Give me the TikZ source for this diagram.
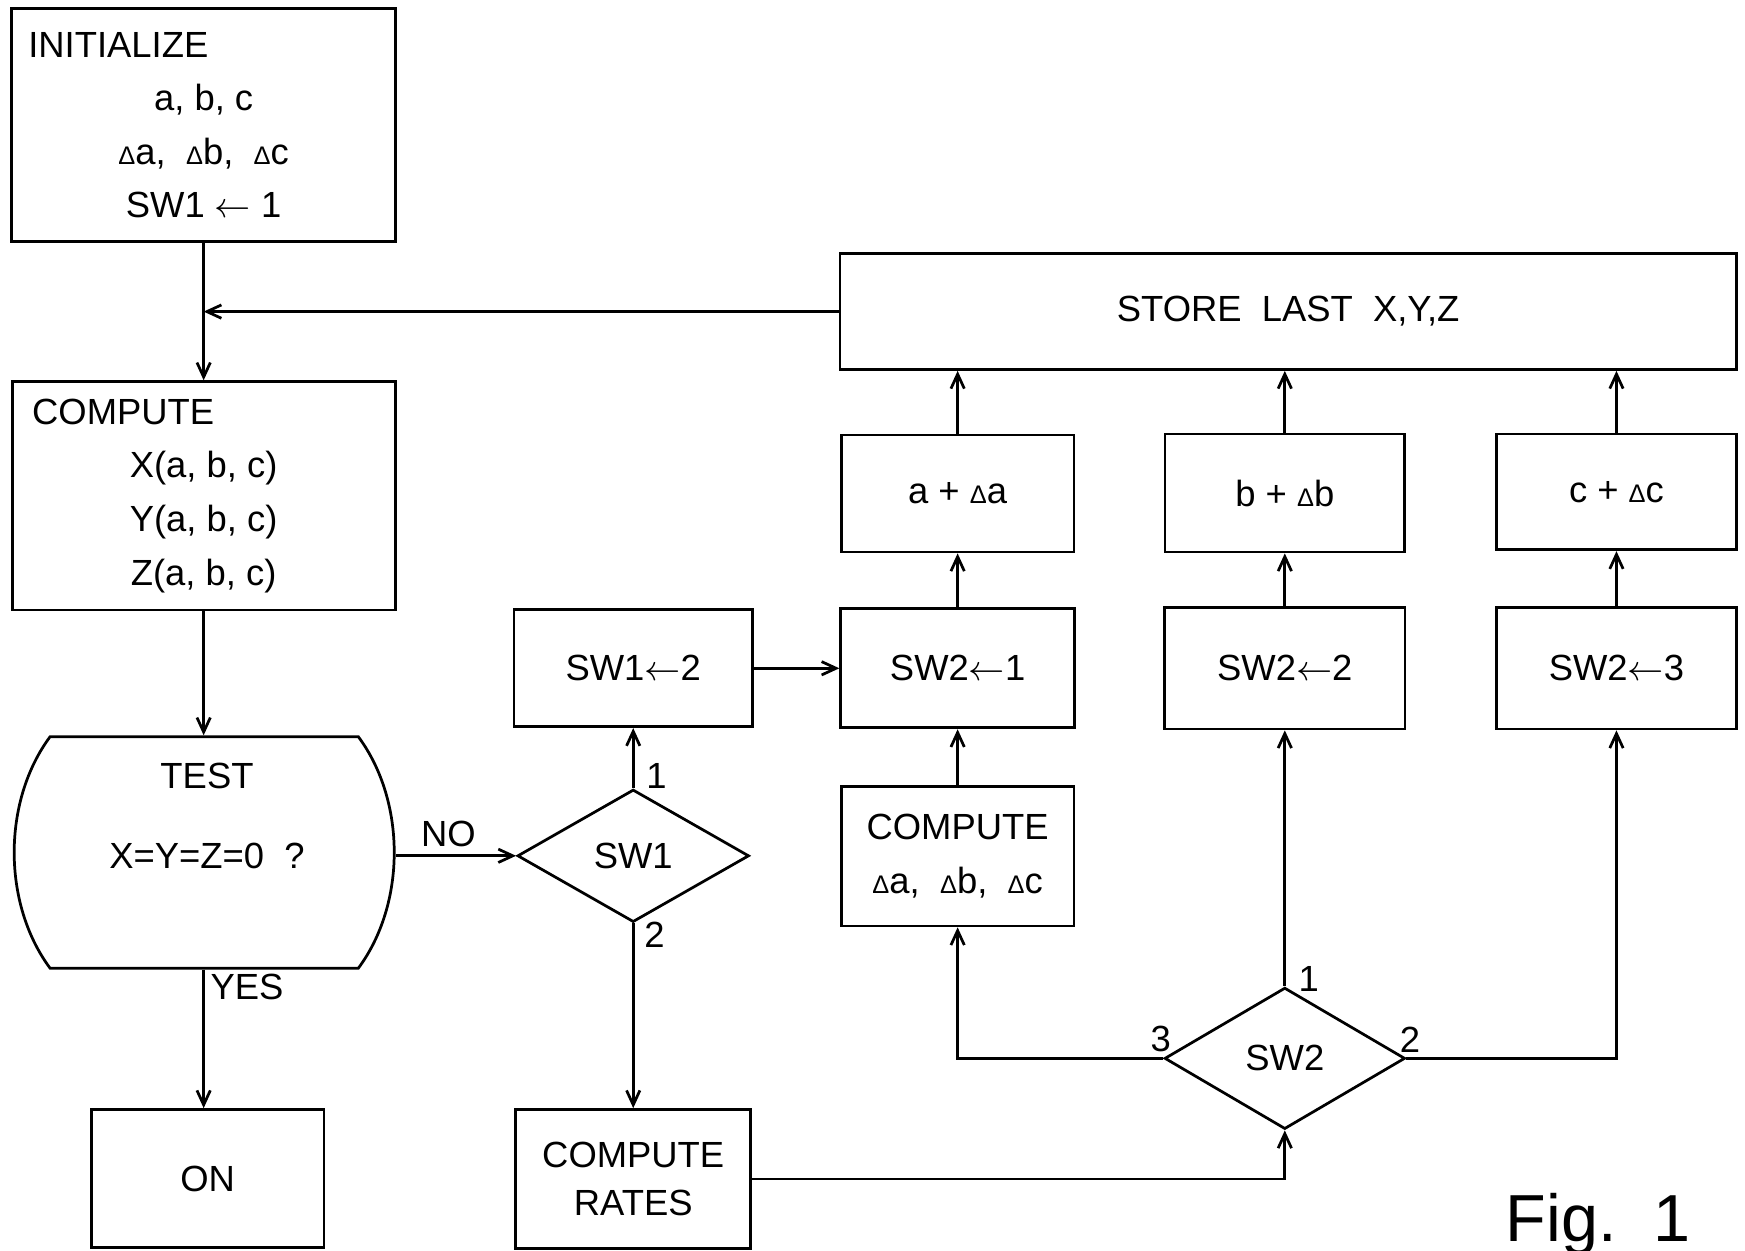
\documentclass[tikz,border=0pt]{standalone}
\usepackage{fontspec}
\setmainfont{Liberation Sans}
\usetikzlibrary{positioning, shapes.geometric, arrows.meta}
\newcommand{\dlt}{{\fontsize{6.5}{6.5}\selectfont Δ}}

\begin{document}
\begin{tikzpicture}[
    x=0.01cm, y=-0.01cm,
    line width=0.7pt,
    >={Straight Barb[length=1.3mm,width=1.2mm]},
    every node/.style={font=\fontsize{9.3}{13.7}\selectfont, inner sep=0pt},
    box/.style={draw, rectangle, align=center}, % rectangular blocks
    switch/.style={draw, diamond, inner sep=0pt} % branch on a switch
    ]
\useasboundingbox (0,0) rectangle (1568,1124);

% left column
\node[box, minimum width=3.45cm, minimum height=2.09cm] (init) at (183,112.5)
  {\makebox[3.15cm][l]{INITIALIZE}\\ a, b, c\\ \dlt a, \ \dlt b, \ \dlt c\\ SW1 $\leftarrow$ 1};
\node[box, minimum width=3.44cm, minimum height=2.05cm] (comp) at (183,445.5)
  {\makebox[3.08cm][l]{COMPUTE}\\ X(a, b, c)\\ Y(a, b, c)\\ Z(a, b, c)};
\node[minimum width=3.43cm, minimum height=2.08cm] (test) at (183,766) {};
\draw (45,662) -- (322,662) .. controls (365,720) and (365,812) .. (322,870)
  -- (45,870) .. controls (2,812) and (2,720) .. cycle;
\node (testtxt) at (186,697) {TEST};
\node (testq) at (186,769) {X=Y=Z=0 \ ?};
\node[box, minimum width=2.09cm, minimum height=1.24cm] (on) at (186.5,1059) {ON};

\draw[->] (init) -- (comp);
\draw[->] (comp) -- (test);
\draw[->] (test.south) -- (test.south |- on.north);
\node (yes) at (222,887) {YES};

% switch 1
\node[switch, minimum width=2.08cm, minimum height=1.19cm] (sw1) at (569,769) {SW1};
\node[box, minimum width=2.14cm, minimum height=1.05cm] (sw1set) at (569,600.5) {SW1$\leftarrow$2};
\node[box, minimum width=2.11cm, minimum height=1.25cm] (rates) at (569,1059.5) {COMPUTE\\[-1.5pt]RATES};
\draw[->] (sw1.west -| test.east) -- (sw1.west);
\node (no) at (403,749) {NO};
\draw[->] (sw1.north) -- (sw1set.south);
\draw[->] (sw1.south) -- (rates.north);
\node (n1a) at (590,697) {1};
\node (n2a) at (588,840) {2};

% right part
\node[box, minimum width=8.05cm, minimum height=1.04cm] (store) at (1157.5,280) {STORE\ \ LAST\ \ X,Y,Z};
\node[box, minimum width=2.09cm, minimum height=1.05cm] (adda) at (860.5,443.5) {a + \dlt a};
\node[box, minimum width=2.15cm, minimum height=1.06cm] (addb) at (1154.5,443) {b + \dlt b};
\node[box, minimum width=2.15cm, minimum height=1.04cm] (addc) at (1452.5,442) {c + \dlt c};
\node[box, minimum width=2.10cm, minimum height=1.07cm] (sw2a) at (860.5,600.5) {SW2$\leftarrow$1};
\node[box, minimum width=2.16cm, minimum height=1.09cm] (sw2b) at (1154.5,600.5) {SW2$\leftarrow$2};
\node[box, minimum width=2.15cm, minimum height=1.09cm] (sw2c) at (1452.5,600.5) {SW2$\leftarrow$3};
\node[box, minimum width=2.09cm, minimum height=1.25cm] (compd) at (860.5,769.5)
  {COMPUTE\\ \dlt a, \ \dlt b, \ \dlt c};
\node[switch, minimum width=2.16cm, minimum height=1.27cm] (sw2) at (1154.5,951) {SW2};

\draw[->] (sw1set) -- (sw2a);
\draw[->] (compd) -- (sw2a);
\draw[->] (sw2a) -- (adda);
\draw[->] (sw2b) -- (addb);
\draw[->] (sw2c) -- (addc);
\draw[->] (adda) -- (adda |- store.south);
\draw[->] (addb) -- (addb |- store.south);
\draw[->] (addc) -- (addc |- store.south);
\draw[->] (rates.east) -| (sw2.south);
\draw[->] (sw2.north) -- (sw2b.south);
\draw[->] (sw2.west) -| (compd.south);
\draw[->] (sw2.east) -| (sw2c.south);
\draw[->] (store.west) -- (store.west -| init.south);
\node (n1b) at (1176,880) {1};
\node (n3b) at (1043,934) {3};
\node (n2b) at (1267,934) {2};

\node[font=\fontsize{17}{17}\selectfont, anchor=base west] (fig) at (1352,1116) {Fig.\ \ 1};
\end{tikzpicture}
\end{document}
